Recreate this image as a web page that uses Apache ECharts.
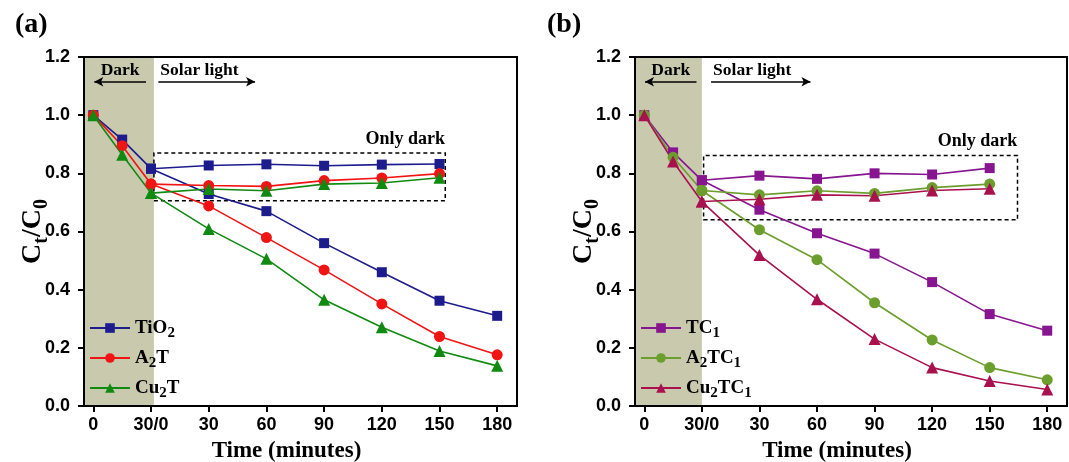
<!DOCTYPE html>
<html>
<head>
<meta charset="utf-8">
<script src="https://cdn.jsdelivr.net/npm/echarts@6/dist/echarts.min.js"></script>
<style>
  html, body { margin: 0; padding: 0; background: #fff; }
  #chart { width: 1069px; height: 462px; }
</style>
</head>
<body>
<div id="chart"></div>
<script>
// x axis: dark stage 0..30 min, then light stage 0..180 min drawn after it (shifted by 30)
const xTickLabels = ['0', '30/0', '30', '60', '90', '120', '150', '180'];
const xTickPos = [0, 30, 60, 90, 120, 150, 180, 210];
const xMain = [0, 15, 30, 60, 90, 120, 150, 180, 210];
const xDarkOnly = [30, 60, 90, 120, 150, 180];

// panel (a)
const tio2Light = [1.0, 0.916, 0.816, 0.729, 0.670, 0.560, 0.460, 0.362, 0.310];
const tio2Dark = [0.816, 0.827, 0.831, 0.826, 0.830, 0.832];
const a2tLight = [1.0, 0.895, 0.763, 0.688, 0.579, 0.468, 0.351, 0.239, 0.176];
const a2tDark = [0.763, 0.758, 0.755, 0.775, 0.784, 0.799];
const cu2tLight = [1.0, 0.864, 0.732, 0.609, 0.506, 0.365, 0.271, 0.189, 0.138];
const cu2tDark = [0.732, 0.746, 0.740, 0.763, 0.767, 0.785];

// panel (b)
const tc1Light = [1.0, 0.872, 0.776, 0.675, 0.594, 0.524, 0.426, 0.316, 0.259];
const tc1Dark = [0.776, 0.792, 0.781, 0.800, 0.796, 0.818];
const a2tc1Light = [1.0, 0.855, 0.741, 0.606, 0.503, 0.355, 0.227, 0.132, 0.090];
const a2tc1Dark = [0.741, 0.726, 0.740, 0.731, 0.751, 0.763];
const cu2tc1Light = [1.0, 0.841, 0.703, 0.519, 0.367, 0.230, 0.132, 0.086, 0.057];
const cu2tc1Dark = [0.703, 0.711, 0.726, 0.723, 0.741, 0.747];

const X_MIN = -4.85, X_MAX = 220.3;
const SERIF = '"Liberation Serif", "Times New Roman", serif';
const SANS = '"Liberation Sans", Arial, sans-serif';
const SHADE = '#c9c9ad';

function pair(xs, ys) {
    return xs.map((x, i) => [x, ys[i]]);
}

function line(name, xs, ys, color, symbol, size, idx) {
    return {
        name: name,
        type: 'line',
        xAxisIndex: idx,
        yAxisIndex: idx,
        data: pair(xs, ys),
        symbol: symbol,
        symbolSize: size,
        color: color,
        lineStyle: { width: 1.6, color: color },
        itemStyle: { color: color },
        z: 3
    };
}

// subscript digits for legend names
function subName(name) {
    return name.replace(/(\d)/g, '{s|$1}');
}

function xAxis(idx) {
    return {
        type: 'value',
        gridIndex: idx,
        min: X_MIN,
        max: X_MAX,
        name: 'Time (minutes)',
        nameLocation: 'middle',
        nameGap: 34,
        nameTextStyle: { fontFamily: SERIF, fontWeight: 'bold', fontSize: 23, color: '#000', padding: [0, 28, 0, 0] },
        axisLine: { onZero: false, lineStyle: { color: '#000', width: 2 } },
        axisTick: { customValues: xTickPos, length: 6, lineStyle: { color: '#000', width: 2 } },
        axisLabel: {
            customValues: xTickPos,
            margin: 10,
            fontFamily: SANS, fontWeight: 'bold', fontSize: 18, color: '#000',
            formatter: v => xTickLabels[xTickPos.indexOf(v)]
        },
        splitLine: { show: false },
        z: 5
    };
}

function yAxis(idx) {
    return {
        type: 'value',
        gridIndex: idx,
        min: 0,
        max: 1.2,
        interval: 0.2,
        name: 'C{b|t}/C{b|0}',
        nameLocation: 'middle',
        nameRotate: 90,
        nameGap: 32,
        nameMoveOverlap: false,
        nameTextStyle: {
            fontFamily: SERIF, fontWeight: 'bold', fontSize: 28, color: '#000', lineHeight: 38,
            rich: { b: { fontFamily: SERIF, fontWeight: 'bold', fontSize: 20, color: '#000', verticalAlign: 'bottom', lineHeight: 16 } }
        },
        axisLine: { onZero: false, lineStyle: { color: '#000', width: 2 } },
        axisTick: { length: 6, lineStyle: { color: '#000', width: 2 } },
        axisLabel: {
            margin: 14,
            fontFamily: SANS, fontWeight: 'bold', fontSize: 18, color: '#000',
            formatter: v => v.toFixed(1)
        },
        splitLine: { show: false },
        z: 5
    };
}

const annoText = { fontFamily: SERIF, fontWeight: 'bold', fontSize: 17.5, color: '#000' };

function arrows(darkFrom, darkTo, solarFrom, solarTo) {
    return {
        silent: true,
        symbolSize: [7, 9],
        lineStyle: { color: '#000', width: 1.5, type: 'solid' },
        data: [
            [
                { coord: [darkFrom, 1.115], symbol: 'arrow' },
                { coord: [darkTo, 1.115], symbol: 'none' }
            ],
            [
                { coord: [solarFrom, 1.115], symbol: 'none' },
                { coord: [solarTo, 1.115], symbol: 'arrow' }
            ]
        ].map((d, i) => {
            d[0].label = Object.assign({
                show: true,
                formatter: i === 0 ? 'Dark' : 'Solar light',
                position: i === 0 ? 'insideMiddleTop' : 'insideStartTop',
                distance: 2
            }, annoText);
            return d;
        })
    };
}

function shade(edge) {
    return {
        silent: true,
        itemStyle: { color: SHADE },
        data: [[{ xAxis: X_MIN }, { xAxis: edge }]]
    };
}

function darkBox(x0, x1, y0, y1) {
    return {
        silent: true,
        itemStyle: { color: 'rgba(0,0,0,0)', borderColor: '#000', borderWidth: 1.5, borderType: [4, 3] },
        label: Object.assign({
            show: true,
            formatter: 'Only dark',
            position: ['100%', 0],
            align: 'right',
            verticalAlign: 'bottom',
            offset: [-1, -4]
        }, annoText, { fontSize: 18 }),
        data: [[{ coord: [x0, y0] }, { coord: [x1, y1] }]]
    };
}

const seriesA = [
    line('TiO2', xMain, tio2Light, '#1c1c8c', 'rect', 10, 0),
    line('A2T', xMain, a2tLight, '#f01414', 'circle', 11, 0),
    line('Cu2T', xMain, cu2tLight, '#118a11', 'triangle', 12, 0),
    line('TiO2', xDarkOnly, tio2Dark, '#1c1c8c', 'rect', 10, 0),
    line('A2T', xDarkOnly, a2tDark, '#f01414', 'circle', 11, 0),
    line('Cu2T', xDarkOnly, cu2tDark, '#118a11', 'triangle', 12, 0)
];
seriesA[0].markArea = shade(31.5);
seriesA[0].markLine = arrows(0.5, 27.4, 33.8, 84.1);
seriesA[1].markArea = darkBox(31.5, 183, 0.706, 0.87);

const seriesB = [
    line('TC1', xMain, tc1Light, '#86158f', 'rect', 10, 1),
    line('A2TC1', xMain, a2tc1Light, '#6c9e2e', 'circle', 11, 1),
    line('Cu2TC1', xMain, cu2tc1Light, '#a8104e', 'triangle', 12, 1),
    line('TC1', xDarkOnly, tc1Dark, '#86158f', 'rect', 10, 1),
    line('A2TC1', xDarkOnly, a2tc1Dark, '#6c9e2e', 'circle', 11, 1),
    line('Cu2TC1', xDarkOnly, cu2tc1Dark, '#a8104e', 'triangle', 12, 1)
];
seriesB[0].markArea = shade(30);
seriesB[0].markLine = arrows(0.36, 27.2, 34.8, 86.6);
seriesB[1].markArea = darkBox(30.9, 194.5, 0.640, 0.861);

function legend(left, names) {
    return {
        orient: 'vertical',
        left: left,
        top: 310,
        itemWidth: 40,
        itemHeight: 12,
        itemGap: 4,
        data: names,
        formatter: subName,
        textStyle: {
            fontFamily: SERIF, fontWeight: 'bold', fontSize: 19, color: '#000', lineHeight: 26,
            rich: { s: { fontFamily: SERIF, fontWeight: 'bold', fontSize: 15, color: '#000', verticalAlign: 'bottom', lineHeight: 12 } }
        }
    };
}

const chart = echarts.init(document.getElementById('chart'));
chart.setOption({
    animation: false,
    backgroundColor: '#fff',
    title: [
        { text: '(a)', left: 10, top: 6, textStyle: { fontFamily: SERIF, fontWeight: 'bold', fontSize: 28, color: '#000' } },
        { text: '(b)', left: 542, top: 6, textStyle: { fontFamily: SERIF, fontWeight: 'bold', fontSize: 28, color: '#000' } }
    ],
    grid: [
        { left: 84, right: 552, top: 57, bottom: 56, outerBoundsMode: 'none', show: true, borderColor: '#000', borderWidth: 2, backgroundColor: 'rgba(0,0,0,0)', z: 6 },
        { left: 635, right: 2, top: 57, bottom: 56, outerBoundsMode: 'none', show: true, borderColor: '#000', borderWidth: 2, backgroundColor: 'rgba(0,0,0,0)', z: 6 }
    ],
    legend: [
        legend(84, ['TiO2', 'A2T', 'Cu2T']),
        legend(635, ['TC1', 'A2TC1', 'Cu2TC1'])
    ],
    xAxis: [xAxis(0), xAxis(1)],
    yAxis: [yAxis(0), yAxis(1)],
    series: seriesA.concat(seriesB)
});
</script>
</body>
</html>
